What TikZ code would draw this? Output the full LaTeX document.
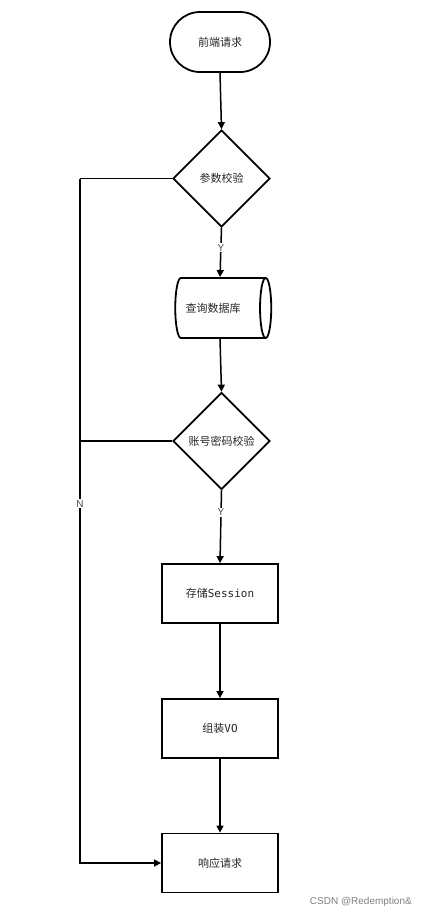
\documentclass[tikz,border=0pt]{standalone}
\usepackage{fontspec}
\setmainfont{Noto Sans CJK SC}
\newfontfamily\cjk{Noto Sans CJK SC}
\newfontfamily\monofnt{DejaVu Sans Mono}
\newfontfamily\wmfont{Liberation Sans}
\usetikzlibrary{shapes.geometric,arrows.meta}
\begin{document}
\begin{tikzpicture}[x=1pt,y=-1pt,
  base/.style={draw=black,line width=1.8pt,font=\cjk\fontsize{11}{13}\selectfont,text=black!85,inner sep=0pt},
  terminal/.style={base,rectangle,rounded corners=30pt,minimum width=100pt,minimum height=60pt},
  decision/.style={base,diamond,aspect=1,minimum width=97pt,minimum height=97pt},
  store/.style={base,cylinder,shape border rotate=0,aspect=1.1,minimum height=96pt,minimum width=60pt},
  process/.style={base,rectangle,minimum width=116pt,minimum height=59pt},
  flow/.style={draw=black,line width=1.5pt,-{Triangle[length=7pt,width=7pt]}},
  plain/.style={draw=black,line width=1.5pt},
  lbl/.style={fill=white,inner sep=1pt,font=\wmfont\fontsize{10}{11}\selectfont,text=black!70}]
\useasboundingbox (0,0) rectangle (428,918);
\node[terminal] (start) at (220,42) {前端请求};
\node[decision] (d1) at (221.5,178.5) {参数校验};
\node[store] (db) at (220,308) {\hspace*{-14pt}查询数据库};
\node[decision] (d2) at (221.5,441) {账号密码校验};
\node[process] (s1) at (220,593.5) {存储{\monofnt Session}};
\node[process] (s2) at (220,728.5) {组装{\monofnt VO}};
\node[process] (s3) at (220,863) {响应请求};
\coordinate (c1) at (80,178.5);
\coordinate (c2) at (80,441);
\coordinate (c3) at (80,863);
\draw[flow] (start.south) -- (d1.north);
\draw[flow] (d1.south) -- node[lbl,pos=0.4]{Y} (db.north);
\draw[flow] (db.south) -- (d2.north);
\draw[flow] (d2.south) -- node[lbl,pos=0.3]{Y} (s1.north);
\draw[flow] (s1.south) -- (s2.north);
\draw[flow] (s2.south) -- (s3.north);
\draw[plain] (d1.west) -- (c1);
\draw[plain] (d2.west) -- (c2);
\draw[flow] (c1) -- node[lbl,pos=0.475]{N} (c3) -- (s3.west);
\node[anchor=east,font=\wmfont\fontsize{10}{12}\selectfont,text=black!50,inner sep=0pt] (wm) at (412,902) {CSDN @Redemption\&};
\end{tikzpicture}
\end{document}
